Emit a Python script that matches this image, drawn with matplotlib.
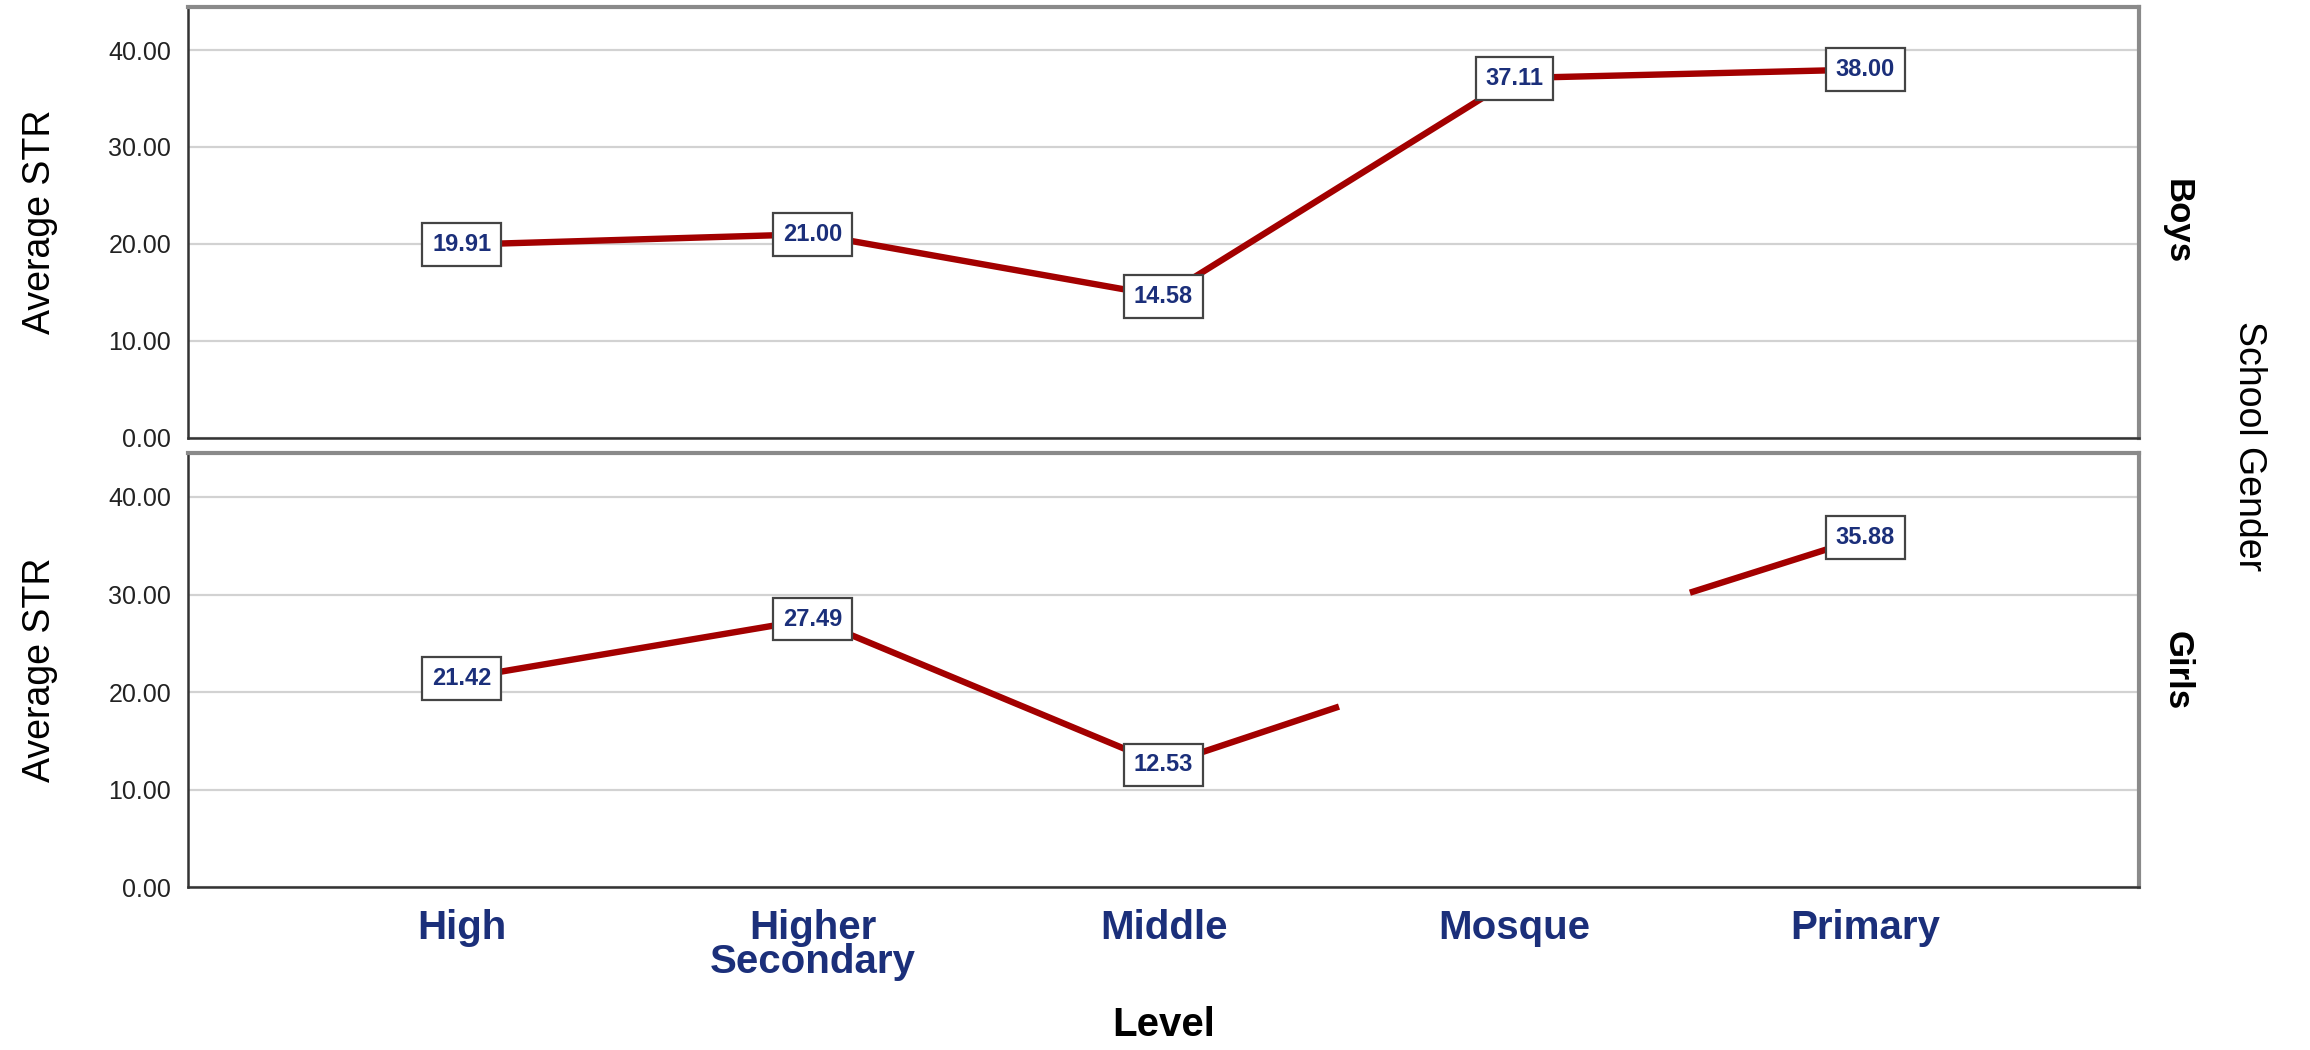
import matplotlib.pyplot as plt

levels = ['High', 'Higher\nSecondary', 'Middle', 'Mosque', 'Primary']
boys_str = [19.91, 21.00, 14.58, 37.11, 38.00]
# Mosque for girls has no label; the line only shows half-segments toward it
girls_str = [21.42, 27.49, 12.53, 24.5, 35.88]
girls_labeled = [True, True, True, False, True]
y_ticks = [0, 10, 20, 30, 40]

line_color = '#A30000'
text_blue = '#1B2F7A'
plt.rcParams['font.family'] = ['Liberation Sans', 'DejaVu Sans']

fig = plt.figure(figsize=(23.1, 10.5), dpi=100)
ax_top = fig.add_axes([0.0814, 0.5833, 0.8446, 0.4105])
ax_bot = fig.add_axes([0.0814, 0.1550, 0.8446, 0.4135])


def style_axis(ax):
  ax.set_xlim(-0.78, 4.78)
  ax.set_ylim(0, 44.5)
  ax.set_yticks(y_ticks)
  ax.set_yticklabels(['%.2f' % v for v in y_ticks], fontsize=18, color='#222222')
  ax.tick_params(axis='y', length=0, pad=12)
  ax.grid(axis='y', color='#d2d2d2', linewidth=1.6)
  ax.set_axisbelow(True)
  for side in ['left', 'bottom']:
    ax.spines[side].set_color('#333333')
    ax.spines[side].set_linewidth(1.8)
  for side in ['top', 'right']:
    ax.spines[side].set_color('#8a8a8a')
    ax.spines[side].set_linewidth(3)
  ax.set_ylabel('Average STR', fontsize=27, labelpad=36)


def value_label(ax, x, y):
  ax.text(x, y, '%.2f' % y, ha='center', va='center', fontsize=17,
          fontweight='bold', color=text_blue, zorder=5,
          bbox=dict(boxstyle='square,pad=0.42', fc='white', ec='#444444', lw=1.6))


xs = list(range(len(levels)))
lw = 4.6

# Boys
style_axis(ax_top)
ax_top.plot(xs, boys_str, color=line_color, lw=lw, solid_capstyle='butt', zorder=3)
for x, y in zip(xs, boys_str):
  value_label(ax_top, x, y)
ax_top.set_xticks(xs)
ax_top.tick_params(axis='x', length=0, labelbottom=False)

# Girls
style_axis(ax_bot)
m = levels.index('Mosque')
ax_bot.plot(xs[:m], girls_str[:m], color=line_color, lw=lw, solid_capstyle='butt', zorder=3)
ax_bot.plot([xs[m - 1], (xs[m - 1] + xs[m]) / 2],
            [girls_str[m - 1], (girls_str[m - 1] + girls_str[m]) / 2],
            color=line_color, lw=lw, solid_capstyle='butt', zorder=3)
ax_bot.plot([(xs[m] + xs[m + 1]) / 2, xs[m + 1]],
            [(girls_str[m] + girls_str[m + 1]) / 2, girls_str[m + 1]],
            color=line_color, lw=lw, solid_capstyle='butt', zorder=3)
for x, y, show in zip(xs, girls_str, girls_labeled):
  if show:
    value_label(ax_bot, x, y)
ax_bot.set_xticks(xs)
ax_bot.set_xticklabels(levels, fontsize=29, fontweight='bold', color=text_blue,
                       linespacing=0.85, va='top')
ax_bot.tick_params(axis='x', length=0, pad=16)
ax_bot.set_xlabel('Level', fontsize=29, fontweight='bold', labelpad=18)

# facet labels on the right
fig.text(0.9425, 0.7890, 'Boys', rotation=-90, ha='center', va='center',
         fontsize=25, fontweight='bold')
fig.text(0.9425, 0.3617, 'Girls', rotation=-90, ha='center', va='center',
         fontsize=25, fontweight='bold')
fig.text(0.9737, 0.5752, 'School Gender', rotation=-90, ha='center', va='center',
         fontsize=27)

fig.savefig('out.png', dpi=100)
